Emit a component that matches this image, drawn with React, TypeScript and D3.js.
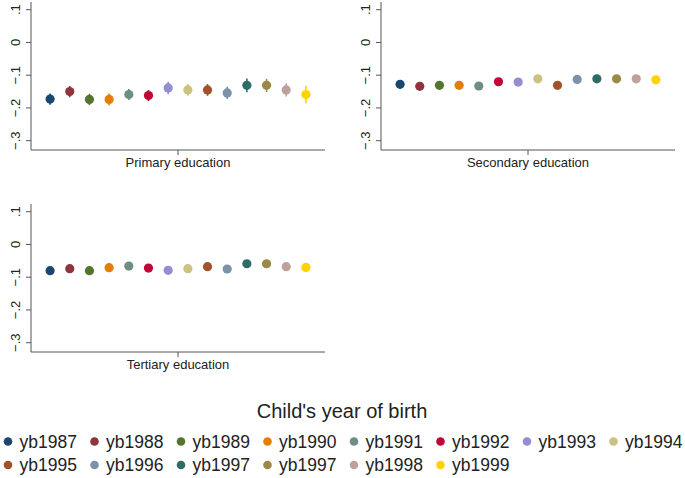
import * as d3 from 'd3';

// cohorts in the order Stata plots them
const cohorts = ['yb1987', 'yb1988', 'yb1989', 'yb1990', 'yb1991', 'yb1992', 'yb1993', 'yb1994', 'yb1995', 'yb1996', 'yb1997', 'yb1997', 'yb1998', 'yb1999'];
const colors = ['#1a476f', '#90353b', '#55752f', '#e37e00', '#6e8e84', '#c10534', '#938dd2', '#cac27e', '#a0522d', '#7b92a8', '#2d6d66', '#9c8847', '#bfa19c', '#ffd200'];

const panelTitles = ['Primary education', 'Secondary education', 'Tertiary education'];

const primaryEst = [-0.173, -0.150, -0.174, -0.174, -0.159, -0.162, -0.139, -0.145, -0.145, -0.154, -0.131, -0.131, -0.145, -0.159];
const primaryCi = [0.017, 0.017, 0.017, 0.018, 0.017, 0.017, 0.019, 0.018, 0.018, 0.019, 0.021, 0.020, 0.020, 0.027];
const secondaryEst = [-0.128, -0.134, -0.131, -0.131, -0.133, -0.120, -0.121, -0.111, -0.131, -0.113, -0.111, -0.111, -0.111, -0.114];
const secondaryCi = [0.012, 0.011, 0.011, 0.011, 0.011, 0.011, 0.011, 0.011, 0.011, 0.011, 0.012, 0.011, 0.011, 0.012];
const tertiaryEst = [-0.080, -0.074, -0.080, -0.071, -0.066, -0.072, -0.079, -0.074, -0.068, -0.075, -0.059, -0.059, -0.068, -0.070];
const tertiaryCi = [0.010, 0.010, 0.010, 0.010, 0.010, 0.010, 0.010, 0.010, 0.010, 0.010, 0.011, 0.010, 0.010, 0.011];

const yTicks = [0.1, 0, -0.1, -0.2, -0.3];

const panels = [
  { title: panelTitles[0], est: primaryEst, ci: primaryCi, left: 31, top: 2 },
  { title: panelTitles[1], est: secondaryEst, ci: secondaryCi, left: 381, top: 2 },
  { title: panelTitles[2], est: tertiaryEst, ci: tertiaryCi, left: 31, top: 204 },
];

const font = '"Liberation Sans", Arial, sans-serif';
const plotW = 294;
const plotH = 148;

const fmt = (v: number) => (v === 0 ? '0' : d3.format('.1f')(v).replace('0.', '.'));

function Panel({ p }: { p: typeof panels[number] }) {
  const x = d3.scalePoint<number>().domain(d3.range(cohorts.length)).range([0, plotW]).padding(0.97);
  const y = d3.scaleLinear().domain([-0.3, 0.1]).range([138.7, 7.7]);
  return (
    <g transform={`translate(${p.left},${p.top})`}>
      <line x1={0} x2={0} y1={0} y2={plotH} stroke="#555" strokeWidth={1} />
      <line x1={0} x2={plotW} y1={plotH} y2={plotH} stroke="#555" strokeWidth={1} />
      <line x1={plotW / 2} x2={plotW / 2} y1={plotH} y2={plotH + 5} stroke="#555" strokeWidth={1} />
      {yTicks.map(t => (
        <g key={t} transform={`translate(0,${y(t)})`}>
          <line x1={-5} x2={0} stroke="#555" strokeWidth={1} />
          <text transform="translate(-11,0) rotate(-90)" textAnchor="middle" fontSize={13} fontFamily={font} fill="#222">
            {fmt(t)}
          </text>
        </g>
      ))}
      {p.est.map((v, i) => (
        <g key={i}>
          <line x1={x(i)} x2={x(i)} y1={y(v - p.ci[i])} y2={y(v + p.ci[i])} stroke={colors[i]} strokeWidth={1.6} />
          <circle cx={x(i)} cy={y(v)} r={4.6} fill={colors[i]} />
        </g>
      ))}
      <text x={plotW / 2} y={plotH + 17} textAnchor="middle" fontSize={13} fontFamily={font} fill="#222">
        {p.title}
      </text>
    </g>
  );
}

export default function App() {
  const perRow = 8;
  const colStep = 86.5;
  return (
    <svg width={685} height={478} style={{ position: 'absolute', left: 0, top: 0, background: '#fff' }}>
      {panels.map(p => <Panel key={p.title} p={p} />)}
      <text x={342} y={418} textAnchor="middle" fontSize={20} fontFamily={font} fill="#222">
        Child's year of birth
      </text>
      {cohorts.map((c, i) => {
        const cx = 8 + (i % perRow) * colStep;
        const cy = 441.5 + Math.floor(i / perRow) * 23.5;
        return (
          <g key={i}>
            <circle cx={cx} cy={cy} r={4.3} fill={colors[i]} />
            <text x={cx + 11.5} y={cy + 6.3} fontSize={17.5} fontFamily={font} fill="#222">
              {c}
            </text>
          </g>
        );
      })}
    </svg>
  );
}
